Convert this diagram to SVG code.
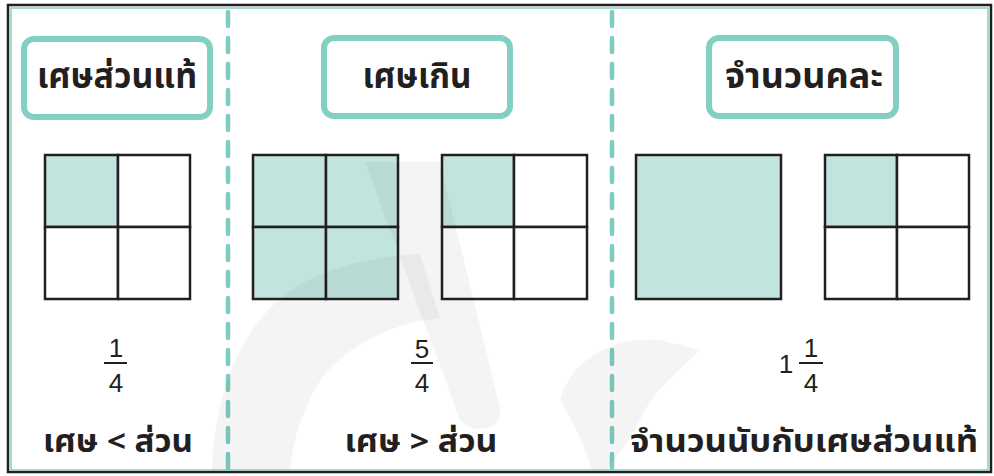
<svg xmlns="http://www.w3.org/2000/svg" width="994" height="476" viewBox="0 0 994 476">
  <style>
    .frame-dark { fill: none; stroke: #231f20; stroke-width: 2.5; }
    .frame-teal { fill: none; stroke: #84cfc4; stroke-width: 1.5; }
    .divider { stroke: #7ecdc2; stroke-width: 4.5; stroke-linecap: round; stroke-dasharray: 14 12; fill: none; }
    .title-box { fill: #ffffff; stroke: #84cfc4; stroke-width: 6; }
    .title { font-family: "Noto Sans Thai", "Noto Sans", sans-serif; font-weight: bold; font-size: 36px; fill: #231f20; text-anchor: middle; }
    .caption { font-family: "Noto Sans Thai", "Noto Sans", sans-serif; font-weight: bold; font-size: 31px; fill: #231f20; text-anchor: middle; }
    .cell { fill: #ffffff; stroke: #231f20; stroke-width: 2.5; }
    .cell-on { fill: #c2e4df; stroke: #231f20; stroke-width: 2.5; }
    .digit { font-family: "Liberation Sans", Arial, sans-serif; font-size: 26px; fill: #231f20; text-anchor: middle; }
    .bar { stroke: #231f20; stroke-width: 2; }
    .ghost { fill: #000000; fill-opacity: 0.045; }
  </style>

  <rect x="0" y="0" width="994" height="476" fill="#ffffff"/>

  <!-- outer frame -->
  <g id="frame">
    <rect class="frame-dark" x="8" y="5" width="983" height="467"/>
    <rect class="frame-teal" x="11" y="8" width="977" height="462"/>
  </g>

  <!-- column dividers -->
  <g id="connectors">
    <line class="divider" x1="228" y1="12" x2="228" y2="470"/>
    <line class="divider" x1="612" y1="12" x2="612" y2="470"/>
  </g>

  <!-- column 1: proper fraction -->
  <g id="proper-title">
    <rect class="title-box" x="24" y="39" width="186" height="78" rx="10"/>
    <text class="title" x="117" y="88" textLength="160" lengthAdjust="spacingAndGlyphs">เศษส่วนแท้</text>
  </g>
  <g id="proper-grid">
    <rect class="cell-on" x="45" y="155" width="73" height="72"/>
    <rect class="cell" x="118" y="155" width="72" height="72"/>
    <rect class="cell" x="45" y="227" width="73" height="72"/>
    <rect class="cell" x="118" y="227" width="72" height="72"/>
  </g>
  <g id="proper-fraction">
    <text class="digit" x="116" y="357">1</text>
    <line class="bar" x1="104" y1="363" x2="127" y2="363"/>
    <text class="digit" x="116" y="392">4</text>
  </g>
  <g id="proper-caption">
    <text class="caption" x="118" y="452" textLength="150" lengthAdjust="spacingAndGlyphs">เศษ &lt; ส่วน</text>
  </g>

  <!-- column 2: improper fraction -->
  <g id="improper-title">
    <rect class="title-box" x="324" y="38" width="186" height="78" rx="10"/>
    <text class="title" x="417" y="88" textLength="109" lengthAdjust="spacingAndGlyphs">เศษเกิน</text>
  </g>
  <g id="improper-grid-full">
    <rect class="cell-on" x="253" y="155" width="73" height="72"/>
    <rect class="cell-on" x="326" y="155" width="72" height="72"/>
    <rect class="cell-on" x="253" y="227" width="73" height="72"/>
    <rect class="cell-on" x="326" y="227" width="72" height="72"/>
  </g>
  <g id="improper-grid-quarter">
    <rect class="cell-on" x="442" y="155" width="72" height="72"/>
    <rect class="cell" x="514" y="155" width="73" height="72"/>
    <rect class="cell" x="442" y="227" width="72" height="72"/>
    <rect class="cell" x="514" y="227" width="73" height="72"/>
  </g>
  <g id="improper-fraction">
    <text class="digit" x="422" y="358">5</text>
    <line class="bar" x1="411" y1="363" x2="433" y2="363"/>
    <text class="digit" x="422" y="392">4</text>
  </g>
  <g id="improper-caption">
    <text class="caption" x="421" y="452" textLength="153" lengthAdjust="spacingAndGlyphs">เศษ &gt; ส่วน</text>
  </g>

  <!-- column 3: mixed number -->
  <g id="mixed-title">
    <rect class="title-box" x="709" y="38" width="187" height="78" rx="10"/>
    <text class="title" x="804" y="88" textLength="158" lengthAdjust="spacingAndGlyphs">จำนวนคละ</text>
  </g>
  <g id="mixed-whole">
    <rect class="cell-on" x="636" y="155" width="145" height="144"/>
  </g>
  <g id="mixed-grid-quarter">
    <rect class="cell-on" x="825" y="155" width="72" height="72"/>
    <rect class="cell" x="897" y="155" width="72" height="72"/>
    <rect class="cell" x="825" y="227" width="72" height="72"/>
    <rect class="cell" x="897" y="227" width="72" height="72"/>
  </g>
  <g id="mixed-fraction">
    <text class="digit" x="786" y="373">1</text>
    <text class="digit" x="811" y="357">1</text>
    <line class="bar" x1="799" y1="363" x2="823" y2="363"/>
    <text class="digit" x="811" y="392">4</text>
  </g>
  <g id="mixed-caption">
    <text class="caption" x="804" y="452" textLength="348" lengthAdjust="spacingAndGlyphs">จำนวนนับกับเศษส่วนแท้</text>
  </g>

  <!-- faint emblem laid over the middle of the sheet -->
  <g id="emblem">
    <path class="ghost" d="M212,470 C214,400 238,322 298,286 C338,263 380,256 420,254 L440,318 C400,322 352,340 322,378 C302,408 292,445 290,470 Z"/>
    <path class="ghost" d="M365,162 L440,162 L500,408 Q502,428 480,429 Q462,429 457,412 Z"/>
    <path class="ghost" d="M560,400 C570,362 610,336 660,340 L700,350 C680,370 652,392 640,420 C630,442 616,456 606,470 L592,470 C586,448 572,420 560,400 Z"/>
  </g>
</svg>
